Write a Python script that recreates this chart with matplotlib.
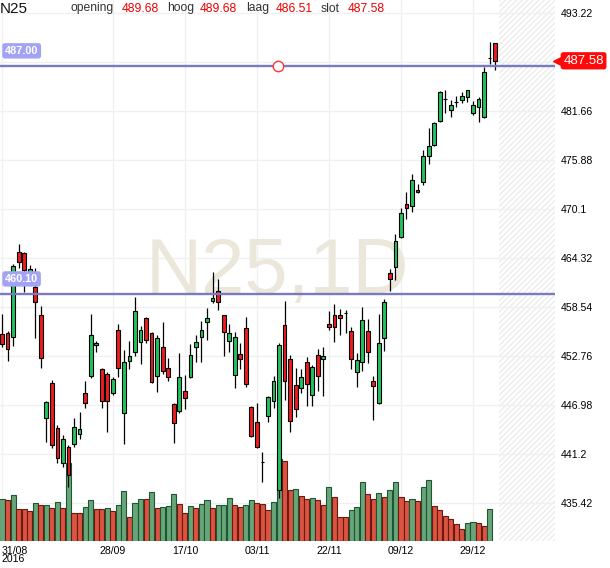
import numpy as np
import matplotlib
matplotlib.use("Agg")
import matplotlib.pyplot as plt
import matplotlib.transforms as mtransforms

plt.rcParams['font.family'] = ['Liberation Sans', 'DejaVu Sans']
plt.rcParams['hatch.linewidth'] = 1.0

# daily candles, 31/08/2016 .. 04/01/2017
opens = [455.35, 455.47, 455.04, 465.06, 464.87, 462.55, 460.90, 457.60, 445.48, 449.61,
         444.23, 440.17, 442.03, 442.34, 443.52, 448.36, 450.44, 454.02, 451.19, 450.60,
         448.43, 455.79, 446.07, 452.21, 453.20, 454.38, 457.21, 455.44, 450.44, 453.86,
         451.31, 447.06, 446.31, 448.60, 450.32, 453.86, 455.04, 456.81, 459.28, 460.39,
         457.56, 454.56, 450.48, 452.96, 456.03, 446.71, 444.94, 440.25, 445.68, 447.45,
         436.95, 456.45, 452.37, 449.34, 448.95, 452.09, 448.12, 452.84, 452.37, 456.50,
         457.56, 457.56, 457.87, 455.71, 450.91, 452.02, 455.71, 449.78, 447.25, 454.85,
         462.51, 463.22, 466.83, 470.65, 470.49, 472.34, 473.32, 476.39, 477.65, 480.48,
         483.04, 481.74, 482.76, 482.92, 483.27, 481.46, 482.09, 480.99, 487.95, 489.68]
highs = [457.71, 455.71, 463.61, 465.93, 465.03, 463.49, 463.14, 458.69, 447.45, 449.93,
         444.62, 443.44, 442.26, 445.41, 446.19, 449.85, 457.68, 454.53, 451.31, 450.91,
         450.30, 456.53, 453.47, 454.53, 459.75, 456.33, 457.32, 455.59, 455.24, 456.77,
         452.49, 447.22, 453.08, 450.48, 454.14, 455.24, 456.92, 458.39, 462.70, 461.81,
         457.60, 456.53, 455.56, 454.33, 457.32, 446.86, 447.18, 441.40, 448.04, 450.40,
         454.29, 459.28, 452.88, 451.34, 451.23, 452.68, 451.70, 453.59, 453.86, 458.10,
         458.86, 458.27, 458.19, 456.22, 453.08, 458.57, 457.09, 450.44, 457.68, 459.52,
         462.99, 467.15, 470.18, 472.07, 474.19, 473.05, 477.06, 479.62, 480.36, 484.02,
         484.13, 482.92, 483.46, 483.93, 484.19, 482.87, 483.34, 486.88, 489.83, 489.68]
lows = [453.82, 452.17, 453.94, 463.18, 460.31, 462.43, 454.88, 451.31, 442.58, 441.87,
        440.17, 439.63, 437.27, 442.03, 442.93, 446.59, 450.20, 453.27, 446.59, 443.83,
        448.20, 450.32, 442.34, 451.19, 452.80, 451.78, 454.33, 449.61, 448.55, 450.60,
        449.85, 442.46, 446.07, 446.54, 450.20, 452.09, 452.09, 454.65, 458.98, 458.19,
        452.80, 453.20, 448.95, 451.19, 449.07, 443.17, 441.91, 437.86, 445.01, 446.59,
        435.98, 447.57, 443.83, 445.60, 448.36, 446.90, 446.90, 448.67, 448.08, 455.79,
        454.45, 455.24, 455.51, 451.19, 449.14, 451.03, 451.97, 445.21, 447.10, 453.39,
        460.46, 461.72, 466.71, 468.88, 469.78, 471.99, 472.93, 475.37, 477.53, 480.32,
        481.46, 480.99, 482.09, 482.64, 482.75, 481.15, 480.40, 480.87, 487.17, 486.51]
closes = [454.18, 453.59, 463.34, 463.88, 462.90, 463.02, 459.16, 452.56, 447.30, 442.26,
          440.69, 442.97, 438.72, 444.35, 444.15, 447.18, 455.24, 454.26, 447.49, 447.49,
          450.01, 451.31, 452.02, 452.76, 458.03, 455.79, 454.61, 449.73, 454.92, 450.95,
          450.32, 444.89, 450.25, 447.77, 452.84, 454.38, 455.83, 457.21, 459.57, 459.09,
          455.56, 455.44, 455.04, 452.37, 449.42, 443.36, 441.99, 440.20, 447.89, 449.85,
          454.09, 449.81, 445.06, 446.47, 450.25, 449.42, 451.50, 450.37, 452.72, 456.15,
          456.15, 457.21, 457.85, 452.44, 452.25, 456.97, 453.27, 449.26, 454.26, 459.09,
          461.88, 466.36, 469.59, 470.18, 473.48, 472.07, 476.31, 477.49, 480.21, 483.86,
          483.02, 482.33, 482.74, 483.39, 484.10, 482.33, 483.04, 486.22, 487.93, 487.58]

# volume bars (relative scale), no bar yet for the last day
volumes = [41.2, 40.2, 45.2, 31.2, 31.2, 29.2, 37.5, 35.2, 35.2, 32.2,
           38.2, 32.2, 77.2, 27.2, 27.2, 33.2, 40.2, 31.2, 31.5, 32.2,
           29.2, 35.2, 49.2, 23.2, 37.2, 41.2, 41.2, 48.2, 32.2, 33.2,
           34.2, 46.2, 36.2, 27.2, 34.2, 32.2, 36.2, 40.2, 32.2, 35.2,
           35.2, 42.2, 35.2, 33.2, 35.2, 40.2, 37.2, 36.2, 30.2, 38.2,
           81.2, 79.2, 50.5, 51.2, 44.2, 41.2, 42.2, 40.2, 35.2, 53.2,
           43.2, 23.2, 23.2, 30.2, 33.2, 58.2, 46.2, 41.2, 47.2, 43.2,
           50.2, 58.2, 43.2, 39.2, 41.2, 39.2, 53.2, 60.2, 34.2, 30.2,
           24.2, 21.2, 16.2, 11.2, 17.2, 18.2, 17.2, 14.2, 31.2]
vol_up = [1, 0, 1, 0, 0, 0, 1, 0, 1, 0,
          1, 0, 1, 0, 0, 1, 1, 0, 0, 1,
          0, 1, 1, 0, 1, 1, 0, 1, 0, 1,
          1, 1, 0, 0, 1, 0, 1, 1, 0, 1,
          1, 1, 0, 0, 1, 1, 0, 0, 0, 1,
          1, 0, 0, 1, 0, 0, 1, 0, 0, 1,
          0, 0, 0, 1, 1, 1, 0, 0, 1, 0,
          1, 1, 0, 0, 1, 0, 1, 1, 0, 0,
          0, 0, 0, 0, 1, 1, 0, 0, 1]

date_idx = [0, 20, 33, 46, 59, 72, 85]
date_labels = ["31/08\n2016", "28/09", "17/10", "03/11", "22/11", "09/12", "29/12"]
price_ticks = [493.22, 487.44, 481.66, 475.88, 470.1, 464.32, 458.54, 452.76, 446.98, 441.2, 435.42]
price_labels = ["493.22", "", "481.66", "475.88", "470.1", "464.32", "458.54", "452.76", "446.98", "441.2", "435.42"]
level_lines = [487.00, 460.10]
header = [("opening", "489.68"), ("hoog", "489.68"), ("laag", "486.51"), ("slot", "487.58")]
last_close = 487.58

W, H = 610, 568
fig = plt.figure(figsize=(W / 100, H / 100), dpi=100)
rect = [0, 27.5 / H, 555 / W, 540.5 / H]
xlim = (-0.36, 99.8)
ylim = (431.0, 494.75)

# bottom layer: grid, watermark, hatched future area, axis labels
ax = fig.add_axes(rect, label="base")
ax.set_xlim(*xlim)
ax.set_ylim(*ylim)
for s in ax.spines.values():
    s.set_visible(False)
ax.yaxis.tick_right()
ax.set_yticks(price_ticks, price_labels)
ax.set_xticks(date_idx, date_labels)
ax.tick_params(length=0, labelsize=7.6, pad=4)
ax.tick_params(axis="x", pad=3.6)
first = ax.xaxis.get_ticklabels()[0]
first.set_horizontalalignment("left")
first.set_multialignment("left")
first.set_linespacing(0.86)
ax.grid(True, color="#f0f0f0", lw=1)
ax.set_axisbelow(True)
ax.axvspan(89.7, xlim[1], facecolor="white", edgecolor="#ececec", hatch="//////", linewidth=0, zorder=0.5)
ax.text(0.5, 0.458, "N25,1D", transform=ax.transAxes, ha="center", va="baseline",
        fontsize=56, color="#ebe7db", zorder=0.6)

# volume layer
vax = fig.add_axes(rect, label="volume")
vax.patch.set_visible(False)
vax.set_xlim(*xlim)
vax.set_ylim(0, 540.5)
vax.axis("off")
vx = np.arange(len(volumes))
vfc = ["#68a67a" if u else "#da5441" for u in vol_up]
vec = ["#1e5632" if u else "#6a1a10" for u in vol_up]
vax.bar(vx, volumes, width=0.92, color=vfc, edgecolor=vec, linewidth=0.8)

# candle layer
cax = fig.add_axes(rect, label="candles")
cax.patch.set_visible(False)
cax.set_xlim(*xlim)
cax.set_ylim(*ylim)
cax.axis("off")
o = np.array(opens)
c = np.array(closes)
x = np.arange(len(o))
bottoms = np.minimum(o, c)
heights = np.maximum(np.abs(c - o), 0.02)
fc = ["#22c35e" if cc > oo else "#ee1c1c" for oo, cc in zip(o, c)]
cax.vlines(x, lows, highs, color="black", lw=0.9, zorder=2)
cax.bar(x, heights, bottom=bottoms, width=0.68, color=fc, edgecolor="black", linewidth=0.8, zorder=3)

blend = mtransforms.blended_transform_factory(cax.transAxes, cax.transData)
for lvl in level_lines:
    cax.axhline(lvl, color="#7a7ac2", lw=1.7, zorder=5)
    cax.annotate(f"{lvl:.2f}", xy=(0.009, lvl), xycoords=blend, xytext=(0, 10.7),
                 textcoords="offset points", ha="left", va="center", fontsize=7.8,
                 fontweight="bold", color="white", zorder=6,
                 bbox=dict(boxstyle="round,pad=0.25", fc="#a3a3f5", ec="none"))
cax.plot([0.5], [level_lines[0]], marker="o", ms=7.5, mfc="white", mec="#ff3333",
         mew=1.0, transform=blend, zorder=6)

# last price tag on the right
cax.plot([1.0 + 3 / 555], [last_close], marker="<", ms=7, color="#ff0a0a",
         transform=blend, clip_on=False, zorder=6)
cax.annotate(f"{last_close:.2f}", xy=(1.0, last_close), xycoords=blend, xytext=(6, 0),
             textcoords="offset points", ha="left", va="center", fontsize=9.5,
             color="white", annotation_clip=False, zorder=7,
             bbox=dict(boxstyle="round,pad=0.2", fc="#ff0a0a", ec="none"))

# header
fig.text(0.0, 1 - 13 / H, "N25", fontsize=11, color="#111111", va="baseline")
xpos = [(70.7, 122), (166.7, 200), (245.7, 276), (321, 348)]
for (lab, val), (xl, xv) in zip(header, xpos):
    fig.text(xl / W, 1 - 11.5 / H, lab, fontsize=8.7, color="#333333", va="baseline")
    fig.text(xv / W, 1 - 11.5 / H, val, fontsize=8.7, color="#ee0000", va="baseline")

fig.savefig("out.png", dpi=100, facecolor="white")
